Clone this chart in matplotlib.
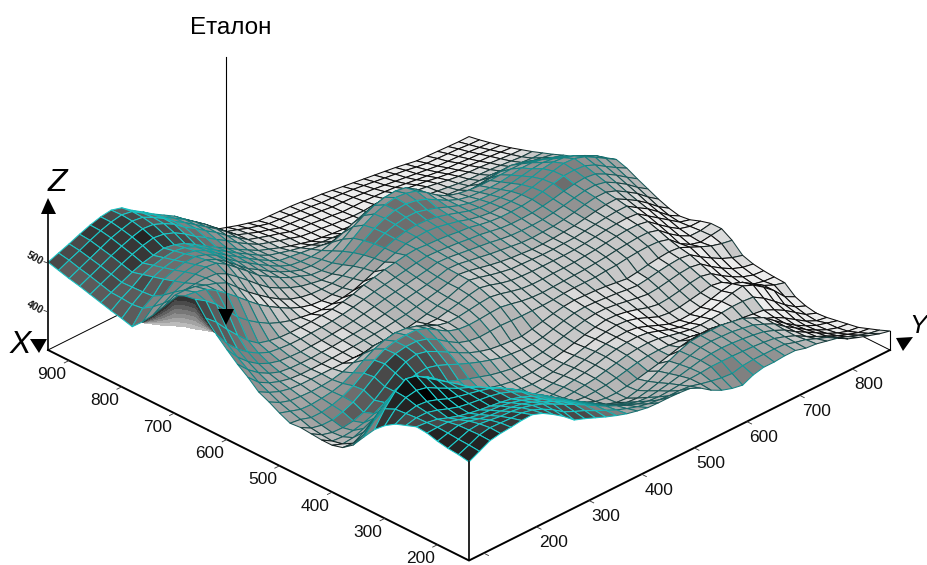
import numpy as np
import matplotlib
matplotlib.use('Agg')
import matplotlib.pyplot as plt
from matplotlib.colors import LinearSegmentedColormap
from mpl_toolkits.mplot3d import proj3d

plt.rcParams['font.family'] = ['Liberation Sans', 'DejaVu Sans']

# grid: X runs from the left corner to the front corner, Y from front to right corner
x_nodes = list(range(940, 139, -20))
y_nodes = list(range(72, 873, 20))

# heights, one row per X node, one value per Y node
z_rows = [
[502,510,518,527,535,541,544,538,522,508,493,480,467,450,434,415,397,390,383,377,371,370,369,368,366,363,361,358,355,352,349,346,343,340,336,332,331,330,329,328,328],
[496,506,515,525,534,541,545,541,527,513,497,484,471,455,439,421,403,396,388,382,376,374,372,370,368,365,364,362,360,357,354,351,348,345,341,338,337,336,335,333,332],
[490,500,510,520,530,537,543,540,529,516,499,486,471,456,441,424,407,399,391,385,378,376,374,372,370,367,366,365,363,361,358,355,352,349,346,343,342,341,340,338,337],
[485,495,505,515,524,532,538,536,527,515,498,485,469,455,438,423,408,401,394,388,381,378,376,373,371,368,368,368,367,366,364,361,358,355,352,350,349,347,346,344,342],
[479,489,499,509,518,525,530,527,519,506,490,477,462,449,434,421,409,402,395,389,382,379,377,374,372,370,370,372,373,374,372,369,366,362,359,356,355,353,352,350,348],
[473,483,493,503,511,516,520,516,508,495,481,468,455,442,430,418,410,402,395,389,383,380,377,375,373,371,372,375,378,380,379,376,372,368,365,363,362,360,358,356,355],
[467,482,494,509,517,522,525,521,512,498,483,470,456,443,430,419,413,407,402,397,392,390,388,386,383,380,379,380,381,382,381,378,375,372,370,369,368,366,364,362,362],
[462,480,495,515,523,528,530,525,515,499,484,470,456,442,430,419,416,413,410,407,404,404,405,404,398,390,387,386,385,385,384,382,380,378,378,378,376,374,372,370,370],
[456,483,497,521,529,534,535,528,516,498,482,468,454,441,429,420,417,416,418,424,432,442,450,456,456,448,432,412,396,392,391,390,390,392,395,398,396,390,386,382,378],
[477,497,510,528,536,540,539,529,514,496,478,465,451,439,429,421,419,421,428,441,456,468,478,484,486,482,468,448,428,416,412,411,412,415,418,420,415,408,400,393,387],
[502,515,527,535,542,546,543,530,512,494,475,462,449,438,430,422,420,425,438,454,470,482,490,494,492,486,472,456,444,438,434,432,432,433,434,434,428,420,412,403,395],
[530,536,542,544,545,543,532,515,497,478,461,449,439,431,426,422,424,432,446,460,474,484,490,492,488,480,468,456,447,442,440,439,440,443,447,447,443,436,426,415,405],
[563,563,560,552,545,535,515,495,478,462,448,437,430,426,425,426,431,440,452,464,475,482,486,486,480,473,464,456,450,447,446,446,448,452,456,458,455,448,438,426,415],
[573,570,565,552,535,517,498,480,465,452,440,431,425,423,425,428,436,446,456,466,474,479,481,480,476,470,463,456,452,451,451,453,456,461,467,470,468,461,451,440,425],
[577,563,545,522,498,480,465,452,443,436,432,428,426,427,429,433,441,450,459,467,475,478,479,477,472,467,460,455,452,453,454,457,461,467,473,478,477,470,458,445,432],
[549,530,505,482,460,444,438,434,433,433,434,436,438,442,447,455,460,465,469,473,475,473,472,470,467,465,460,456,454,454,455,458,463,469,474,475,473,464,450,437,425],
[526,497,475,458,445,436,433,431,431,432,433,435,438,442,447,452,456,460,464,468,471,470,468,466,463,461,457,453,451,451,452,455,459,464,468,470,467,456,443,428,414],
[506,480,460,445,435,429,427,426,427,428,430,432,435,439,443,448,452,456,460,464,469,468,465,462,459,456,452,449,448,448,449,452,456,461,465,466,461,449,435,418,404],
[487,465,448,436,428,425,424,424,425,426,428,430,432,435,439,443,448,452,456,461,467,466,462,458,454,451,448,445,444,445,446,449,453,458,462,462,454,441,427,409,394],
[471,450,438,430,425,423,423,423,424,425,426,428,430,432,435,438,443,448,453,459,466,463,458,453,449,446,444,442,442,443,445,447,451,455,458,459,447,434,418,400,386],
[452,440,431,426,424,424,424,424,424,424,424,425,426,427,430,434,439,445,451,459,465,460,454,449,445,444,443,442,442,443,444,447,450,453,455,455,441,428,411,393,381],
[442,430,423,421,420,421,423,428,436,444,450,450,446,443,442,440,440,445,450,456,460,455,448,443,441,440,440,440,440,441,443,446,449,451,452,450,435,420,405,390,384],
[430,423,416,415,417,420,426,437,452,464,472,476,474,468,458,448,443,444,447,450,452,448,442,437,435,435,436,436,437,439,441,444,447,449,449,445,428,412,398,392,392],
[420,417,410,410,414,421,432,447,463,475,480,482,482,474,460,447,440,438,439,441,442,438,433,430,429,430,431,432,433,435,437,440,442,444,444,438,420,405,394,394,398],
[422,410,405,405,411,420,434,450,466,476,480,480,474,462,447,434,427,424,425,426,425,424,424,424,425,427,428,428,428,430,431,434,436,437,436,430,411,398,392,395,398],
[420,407,401,400,403,410,424,441,458,470,475,470,459,447,435,424,416,410,407,405,404,408,413,418,422,424,423,422,420,417,414,417,421,424,426,424,414,404,395,389,385],
[418,405,403,405,410,418,430,441,450,456,458,452,443,433,424,416,409,403,400,398,398,402,408,414,419,421,420,418,416,413,411,414,418,421,423,420,405,392,380,371,365],
[418,410,412,420,430,438,442,444,444,442,438,430,422,414,407,400,395,391,390,390,393,398,404,410,415,418,418,415,411,407,404,406,410,414,416,412,396,382,370,362,358],
[424,422,434,452,466,472,470,462,452,442,431,422,413,404,396,390,386,384,384,387,390,395,401,407,412,416,415,411,405,398,394,396,400,405,408,403,388,375,364,357,355],
[440,450,470,492,510,516,508,494,478,462,446,432,420,408,397,388,383,381,382,385,391,397,403,409,413,416,414,408,399,390,387,388,392,396,400,396,382,370,360,355,353],
[467,490,510,528,538,536,526,510,490,468,446,430,416,403,392,383,380,380,383,388,393,399,405,410,413,414,411,403,394,386,383,384,388,394,400,404,396,382,368,358,352],
[493,525,550,565,560,545,530,515,500,484,468,452,434,416,400,386,380,382,386,390,394,399,405,410,413,414,411,404,396,390,388,390,394,400,406,410,401,386,368,345,334],
[512,535,548,552,547,535,524,513,504,494,482,468,450,430,413,398,388,385,387,390,393,398,403,408,411,412,410,405,400,396,395,396,398,400,400,398,385,368,350,335,326],
[526,537,542,540,533,524,518,513,508,502,492,480,465,447,430,414,400,390,387,388,390,394,399,404,407,408,407,405,403,398,394,392,390,388,385,382,372,360,345,330,322],
[534,539,539,533,525,518,514,511,508,503,495,484,470,456,441,426,411,398,389,385,385,388,392,397,402,408,414,418,420,420,416,410,402,394,386,378,366,352,338,328,324],
[542,540,536,528,521,516,512,509,506,502,495,486,474,462,448,434,420,406,394,387,385,390,398,408,418,428,436,438,438,438,434,430,420,410,393,377,362,350,340,334,328],
[540,541,541,535,528,524,522,520,516,510,501,491,479,467,454,441,428,415,405,398,396,400,406,414,422,429,435,437,436,435,431,427,418,408,392,378,364,352,342,335,332],
[534,540,545,543,537,533,531,528,524,517,507,497,485,473,460,448,436,425,416,410,408,411,415,420,425,430,433,434,433,431,428,424,416,406,392,380,368,356,346,339,336],
[530,538,546,548,545,542,541,538,532,524,513,502,491,479,467,455,445,435,427,422,420,421,423,425,426,428,428,428,427,426,424,421,414,405,393,382,372,362,354,347,344],
[528,537,547,551,550,549,549,544,535,523,508,498,489,478,468,458,450,443,438,435,433,433,431,425,420,416,414,419,421,421,421,420,413,408,399,391,380,371,363,356,352],
[524,535,546,550,552,555,556,548,535,520,502,494,485,476,468,461,456,452,451,451,450,448,438,423,412,405,401,411,416,416,418,418,412,410,405,400,388,380,373,366,361],
]

# lower rim of the bare strip under the hump on the left edge, X nodes 9..16
strip_rows = list(range(9, 17))
strip_bottom = [475, 483, 491, 501, 510, 516, 524, 530]

x_tick_vals = [900, 800, 700, 600, 500, 400, 300, 200]
y_tick_vals = [200, 300, 400, 500, 600, 700, 800]
y_minor = [100]
z_tick_vals = [500, 400]

# grey tone of the surface as seen in the picture, every 4th node in both directions
tone_rows = [
[.45, .30, .25, .45, .80, .93, .94, .94, .94, .94, .94],
[.48, .32, .25, .45, .72, .92, .93, .90, .90, .92, .90],
[.52, .45, .42, .50, .60, .70, .50, .80, .62, .55, .60],
[.50, .60, .84, .88, .75, .50, .42, .55, .48, .42, .48],
[.35, .52, .84, .88, .80, .62, .58, .64, .58, .55, .70],
[.55, .78, .86, .84, .80, .78, .80, .82, .84, .82, .90],
[.74, .55, .35, .42, .76, .86, .86, .86, .88, .90, .92],
[.74, .42, .35, .50, .78, .86, .88, .88, .90, .92, .92],
[.35, .05, .15, .45, .65, .82, .87, .87, .92, .94, .94],
[.25, .12, .15, .30, .55, .65, .70, .62, .70, .92, .94],
[.25, .20, .18, .25, .55, .62, .62, .62, .65, .70, .72],
]

X = np.array(x_nodes, dtype=float)
Y = np.array(y_nodes, dtype=float)
Z = np.array(z_rows, dtype=float)
Yg, Xg = np.meshgrid(Y, X)
zbase = 322
xmin, xmax, ymin, ymax = X[-1], X[0], Y[0], Y[-1]

fig = plt.figure(figsize=(9.28, 5.65), dpi=100)
ax = fig.add_axes([0, -0.32, 1, 1.64], projection='3d')
ax.set_proj_type('ortho')
ax.view_init(elev=30, azim=-135)
ax.set_axis_off()
ax.patch.set_alpha(0)
ax.computed_zorder = False
# mpl x holds the Y axis and mpl y the X axis, the original is left handed
ax.set_xlim(ymin, ymax, view_margin=0)
ax.set_ylim(xmin, xmax, view_margin=0)
ax.set_zlim(zbase, 600, view_margin=0)
box = (ymax - ymin, xmax - xmin, (600 - zbase) * 0.757)


def to_px(xv, yv, zv):
    xp, yp, _ = proj3d.proj_transform(yv, xv, zv, ax.get_proj())
    px = ax.transData.transform((xp, yp))
    return px[0], 565 - px[1]


# fit the box so the corners land where they are in the picture
ax.set_box_aspect(box, zoom=1)
fig.canvas.draw()
span = to_px(xmin, ymax, zbase)[0] - to_px(xmax, ymin, zbase)[0]
ax.set_box_aspect(box, zoom=842 / span)
fig.canvas.draw()
lx, ly = to_px(xmax, ymin, zbase)
ax.set_position([(48 - lx) / 928, -0.32 - (350 - ly) / 565, 1, 1.64])
fig.canvas.draw()

# bare strip with grey bands
strip_x = X[strip_rows]
strip_top = Z[strip_rows, 0]
bands = np.linspace(0, 1, 8)
strip_z = np.array([strip_top + (np.array(strip_bottom) - strip_top) * b for b in bands])
strip_xg = np.tile(strip_x, (8, 1))
strip_yg = np.full(strip_xg.shape, ymin)
strip_fc = np.zeros(strip_z.shape + (4,))
for k, b in enumerate(bands):
    g = 0.2 + 0.62 * b
    strip_fc[k, :] = (g, g, g, 1)
ax.plot_surface(strip_yg, strip_xg, strip_z, rstride=1, cstride=1, facecolors=strip_fc,
                shade=False, linewidth=0, antialiased=False, zorder=1)

# back edges of the base
ax.plot([ymin, ymax], [xmax, xmax], [zbase, zbase], color='k', lw=0.7, zorder=1)
ax.plot([ymax, ymax], [xmin, xmax], [zbase, zbase], color='k', lw=0.7, zorder=1)

# face tone: the picture's tone map, with the local slope on top for texture
tones = np.array(tone_rows)
knots = np.arange(0, 41, 4)
ci = np.arange(40) + 0.5
by_col = np.array([np.interp(ci, knots, tones[:, c]) for c in range(11)])
tone = np.array([np.interp(ci, knots, by_col[:, r]) for r in range(40)])
di = (Z[1:, :-1] + Z[1:, 1:] - Z[:-1, :-1] - Z[:-1, 1:]) / 2
dj = (Z[:-1, 1:] + Z[1:, 1:] - Z[:-1, :-1] - Z[1:, :-1]) / 2
slope = dj - di
grey = np.clip(tone - np.clip(slope / 110, -0.12, 0.12), 0.0, 0.94)
grey = np.round(grey * 14) / 14
face = np.ones(Z.shape + (4,))
face[:-1, :-1, 0] = grey
face[:-1, :-1, 1] = grey
face[:-1, :-1, 2] = grey
line_cmap = LinearSegmentedColormap.from_list(
    'mesh', [(0, '#1fd6d6'), (0.38, '#18c4c4'), (0.55, '#128a8a'), (0.68, '#1a6464'), (0.8, '#1a3c3c'), (0.9, '#111111'), (1, '#000000')])

surf = ax.plot_surface(Yg, Xg, Z, rstride=1, cstride=1, facecolors=face, shade=False,
                       linewidth=0.75, antialiased=True, zorder=2)
surf.set_edgecolor(line_cmap(grey.ravel()))
surf.set_clip_on(False)

# overlay in picture pixels for axes, ticks and labels
ov = fig.add_axes([0, 0, 1, 1])
ov.set_xlim(0, 928)
ov.set_ylim(565, 0)
ov.axis('off')
ov.patch.set_alpha(0)

front = to_px(xmin, ymin, zbase)
left = to_px(xmax, ymin, zbase)
right = to_px(xmin, ymax, zbase)
top_front = to_px(xmin, ymin, Z[-1, 0])
ov.plot([left[0], front[0], right[0]], [left[1], front[1], right[1]], color='k', lw=1.4, solid_joinstyle='miter')
ov.plot([front[0], top_front[0]], [front[1], top_front[1]], color='k', lw=1.2)
ov.plot([left[0], left[0]], [left[1], 212], color='k', lw=1.2)
right_top = to_px(xmin, ymax, Z[-1, -1])
ov.plot([right[0], right_top[0]], [right[1], right_top[1]], color='k', lw=0.8)

for v in x_tick_vals:
    a = to_px(v, ymin, zbase)
    b = to_px(v, ymin - 9, zbase)
    ov.plot([a[0], b[0]], [a[1], b[1]], color='#333333', lw=0.6)
    ov.text(a[0] - 17, a[1] + 14, str(v), ha='center', va='center', fontsize=12.5, color='#111111')
for v in y_tick_vals + y_minor:
    a = to_px(xmin, v, zbase)
    b = to_px(xmin - 9, v, zbase)
    ov.plot([a[0], b[0]], [a[1], b[1]], color='#333333', lw=0.6)
    if v in y_tick_vals:
        ov.text(a[0] + 17, a[1] + 16, str(v), ha='center', va='center', fontsize=12.5, color='#111111')
for v in z_tick_vals:
    a = to_px(xmax, ymin, v)
    ov.plot([a[0] - 4, a[0]], [a[1] - 1.5, a[1]], color='#333333', lw=0.6)
    ov.text(a[0] - 13, a[1] - 5, str(v), ha='center', va='center', fontsize=7.5, fontweight='bold',
            rotation=-28, color='#111111')

ov.fill([48, 41, 56], [198, 214, 214], color='k', lw=0)
ov.fill([30, 47, 39], [339, 339, 353], color='k', lw=0)
ov.fill([896, 913, 903], [338, 337, 351], color='k', lw=0)
ov.text(57, 183, 'Z', style='italic', fontsize=23, ha='center', va='center')
ov.text(20, 345, 'X', style='italic', fontsize=23, ha='center', va='center')
ov.text(918, 326, 'Y', style='italic', fontsize=19, ha='center', va='center')

ov.text(231, 28, 'Еталон', fontsize=17.5, ha='center', va='center')
ov.plot([226, 226], [57, 310], color='k', lw=0.8)
ov.fill([218, 234, 226], [309, 309, 325], color='k', lw=0)

fig.savefig('out.png', dpi=100)
